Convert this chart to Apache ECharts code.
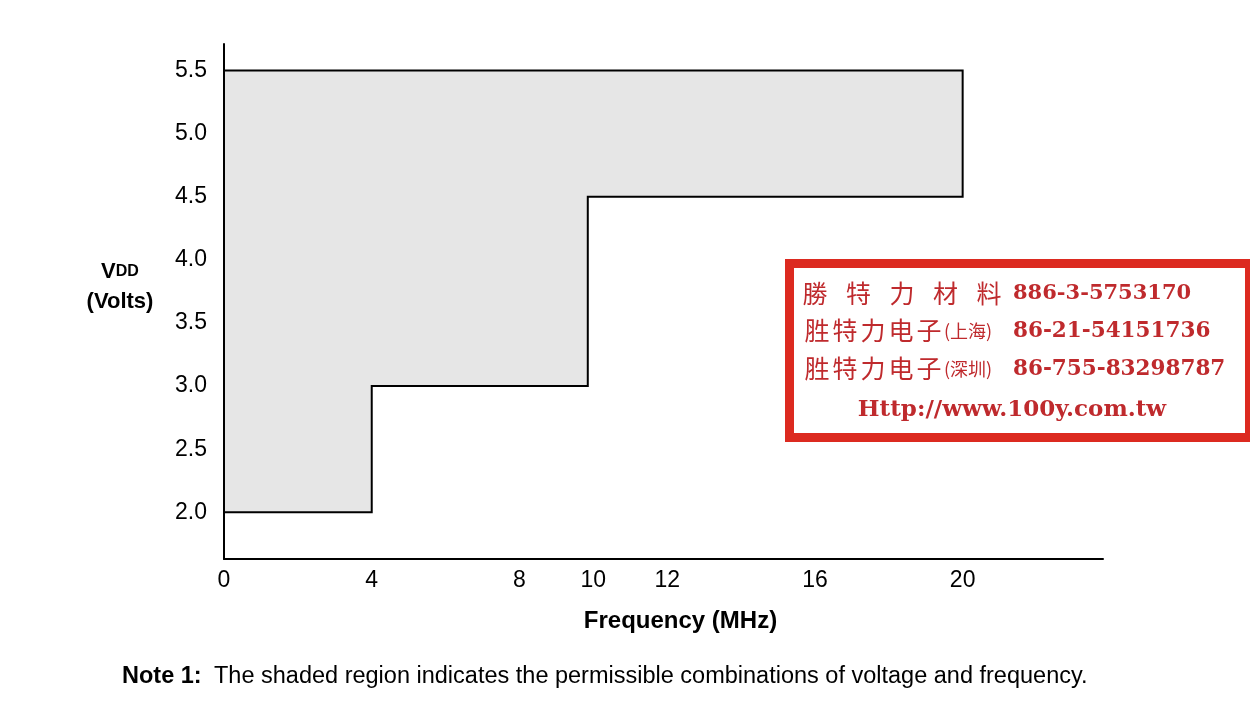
<!DOCTYPE html>
<html><head><meta charset="utf-8">
<script src="https://cdn.jsdelivr.net/npm/echarts@6/dist/echarts.min.js"></script>
<style>html,body{margin:0;padding:0;background:#fff}#c{width:1250px;height:721px}</style>
</head><body><div id="c"></div>
<script>
// Boundary of the shaded (permissible) region, traced clockwise
const freqMHz  = [0, 4, 4, 9.85, 9.85, 20, 20, 0];
const vddVolts = [2.0, 2.0, 3.0, 3.0, 4.5, 4.5, 5.5, 5.5];
const xTickLabels = [0, 4, 8, 10, 12, 16, 20];
const yTickLabels = [2.0, 2.5, 3.0, 3.5, 4.0, 4.5, 5.0, 5.5];
const xTitle = 'Frequency (MHz)';
const noteLabel = 'Note 1:';
const noteText = 'The shaded region indicates the permissible combinations of voltage and frequency.';
const stampLine1Chars = ['勝', '特', '力', '材', '料'];
const stampLine1Num = '886-3-5753170';
const stampLine2Name = '胜特力电子';
const stampLine2City = '(上海)';
const stampLine2Num = '86-21-54151736';
const stampLine3Name = '胜特力电子';
const stampLine3City = '(深圳)';
const stampLine3Num = '86-755-83298787';
const stampUrl = 'Http://www.100y.com.tw';

const SANS = '"Liberation Sans", Arial, Helvetica, sans-serif';
const CJK = '"Noto Sans CJK TC", "Noto Sans CJK SC", sans-serif';
const SERIF = '"DejaVu Serif", "Liberation Serif", serif';
const RED_TEXT = '#bf2a2d';

const chart = echarts.init(document.getElementById('c'), null, {renderer: 'canvas'});

const g = [];
// stamp box
g.push({type: 'rect', shape: {x: 789.5, y: 263.5, width: 460, height: 174},
  style: {fill: '#fff', stroke: '#dc2a20', lineWidth: 9}, z: 10});
function txt(x, y, text, font, size, weight, align) {
  g.push({type: 'text', x: x, y: y, z: 11, style: {text: text, fontFamily: font, fontSize: size,
    fontWeight: weight || 'normal', fill: RED_TEXT, align: align || 'left', verticalAlign: 'middle'}});
}
stampLine1Chars.forEach((ch, i) => txt(815 + i * 43.5, 293, ch, CJK, 25, 'normal', 'center'));
txt(1013, 294, stampLine1Num, SERIF, 21, 'bold');
stampLine2Name.split('').forEach((ch, i) => txt(817 + i * 28, 330, ch, CJK, 25, 'normal', 'center'));
txt(944, 331, stampLine2City, CJK, 18, 'normal');
txt(1013, 331, stampLine2Num, SERIF, 21.5, 'bold');
stampLine3Name.split('').forEach((ch, i) => txt(817 + i * 28, 368, ch, CJK, 25, 'normal', 'center'));
txt(944, 369, stampLine3City, CJK, 18, 'normal');
txt(1013, 369, stampLine3Num, SERIF, 21.5, 'bold');
txt(1012, 410, stampUrl, SERIF, 23, 'bold', 'center');

// y-axis title
g.push({type: 'text', x: 120, y: 287, z: 5, style: {
  text: '{v|V}{d|DD}\n{p|(Volts)}', align: 'center', verticalAlign: 'middle',
  rich: {
    v: {fontFamily: SANS, fontSize: 22, fontWeight: 'bold', fill: '#000', lineHeight: 30},
    d: {fontFamily: SANS, fontSize: 16, fontWeight: 'bold', fill: '#000', lineHeight: 30},
    p: {fontFamily: SANS, fontSize: 22, fontWeight: 'bold', fill: '#000', lineHeight: 30}
  }}});
// note
g.push({type: 'text', x: 122, y: 677, style: {text: noteLabel, fontFamily: SANS, fontSize: 23.5,
  fontWeight: 'bold', fill: '#000', verticalAlign: 'middle'}});
g.push({type: 'text', x: 214, y: 677, style: {text: noteText, fontFamily: SANS, fontSize: 23.5,
  fill: '#000', verticalAlign: 'middle'}});

chart.setOption({
  animation: false,
  backgroundColor: '#fff',
  grid: {left: 224, right: 147, top: 44, bottom: 162, containLabel: false},
  xAxis: {
    type: 'value', min: 0, max: 23.8,
    axisLine: {show: true, lineStyle: {color: '#000', width: 2}},
    axisTick: {show: false},
    splitLine: {show: false},
    axisLabel: {customValues: xTickLabels, margin: 10, fontFamily: SANS, fontSize: 23, color: '#000'},
    name: xTitle, nameLocation: 'middle', nameGap: 50,
    nameTextStyle: {fontFamily: SANS, fontSize: 24, fontWeight: 'bold', color: '#000', padding: [0, 0, 0, 34]}
  },
  yAxis: {
    type: 'value', min: 1.63, max: 5.71,
    axisLine: {show: true, lineStyle: {color: '#000', width: 2}},
    axisTick: {show: false},
    splitLine: {show: false},
    axisLabel: {customValues: yTickLabels, margin: 17, fontFamily: SANS, fontSize: 23, color: '#000',
      formatter: v => Number(v).toFixed(1)}
  },
  series: [{
    type: 'custom',
    coordinateSystem: 'cartesian2d',
    clip: false,
    data: [[freqMHz[0], vddVolts[0]]],
    renderItem: function (params, api) {
      const pts = freqMHz.map((f, i) => api.coord([f, vddVolts[i]]));
      return {type: 'polygon', shape: {points: pts},
        style: {fill: '#e6e6e6', stroke: '#000', lineWidth: 2}};
    }
  }],
  graphic: g
});
</script></body></html>
